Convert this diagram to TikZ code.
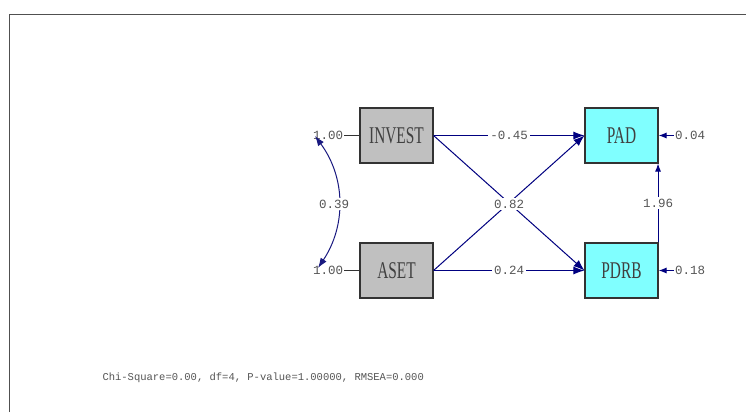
\documentclass[tikz,border=0pt]{standalone}
\usepackage{fontspec}
\setmainfont{Liberation Serif}
\newfontfamily\boxfont[FakeStretch=0.64]{Liberation Serif}
\newfontfamily\numfont{Liberation Mono}
\usetikzlibrary{arrows.meta}
\definecolor{navy}{RGB}{0,0,128}
\definecolor{boxgray}{RGB}{192,192,192}
\definecolor{boxcyan}{RGB}{128,255,255}
\definecolor{numgray}{RGB}{85,85,85}
\definecolor{framegray}{RGB}{80,80,80}
\begin{document}
\begin{tikzpicture}[x=1pt,y=-1pt,
  varbox/.style={draw=black!80, line width=1.1pt, minimum width=73pt, minimum height=55pt, inner sep=0pt, font=\boxfont\fontsize{24}{24}\selectfont, text=black!75},
  obsx/.style={varbox, fill=boxgray},
  obsy/.style={varbox, fill=boxcyan},
  num/.style={font=\numfont\fontsize{12.5}{12.5}\selectfont, text=numgray, inner sep=1pt},
  numbg/.style={num, fill=white, inner sep=2pt},
  effect/.style={draw=navy, line width=1pt, -{Latex[length=11pt,width=8pt]}},
  small effect/.style={draw=navy, line width=1pt, -{Latex[length=8pt,width=6pt]}},
  plainline/.style={draw=black!80, line width=0.9pt},
  covar/.style={draw=navy!80!gray, line width=1pt, {Latex[length=10pt,width=7pt]}-{Latex[length=10pt,width=7pt]}}
]
\useasboundingbox (0,0) rectangle (746,412);
\fill[white] (0,0) rectangle (746,412);
\draw[framegray, line width=1pt] (9,412) -- (9,15) -- (746,15);

\node[obsx] (INVEST) at (396.5,135.5) {INVEST};
\node[obsx] (ASET) at (396.5,270.5) {ASET};
\node[obsy] (PAD) at (621.5,135.5) {PAD};
\node[obsy] (PDRB) at (621.5,270.5) {PDRB};

\node[num] (v1) at (328,135.5) {1.00};
\node[num] (v2) at (328,270.5) {1.00};
\node[num] (e1) at (690,135.5) {0.04};
\node[num] (e2) at (690,270.5) {0.18};

\draw[plainline] (v1.east) -- (INVEST.west);
\draw[plainline] (v2.east) -- (ASET.west);

\coordinate (c1) at (315,136);
\coordinate (c2) at (318,268);
\draw[covar] (c1) .. controls (346,178) and (346,226) .. (c2);
\node[numbg] (r12) at (334,204) {0.39};

\draw[effect] (INVEST.east) -- (PDRB.west);
\draw[effect] (ASET.east) -- (PAD.west);
\node[numbg] (b82) at (509,204) {0.82};
\draw[effect] (INVEST.east) -- node[numbg] (b45) {-0.45} (PAD.west);
\draw[effect] (ASET.east) -- node[numbg] (b24) {0.24} (PDRB.west);

\coordinate (pdrbtop) at (PDRB.north east);
\coordinate (padbot) at (PAD.south east);
\draw[small effect] ([xshift=-0.5pt]pdrbtop) -- node[numbg] (b96) {1.96} ([xshift=-0.5pt]padbot);

\draw[small effect] (e1.west) -- (PAD.east);
\draw[small effect] (e2.west) -- (PDRB.east);

\node[font=\numfont\fontsize{10.5}{10.5}\selectfont, text=numgray, anchor=west] (fit) at (99,378) {Chi-Square=0.00, df=4, P-value=1.00000, RMSEA=0.000};
\end{tikzpicture}
\end{document}
